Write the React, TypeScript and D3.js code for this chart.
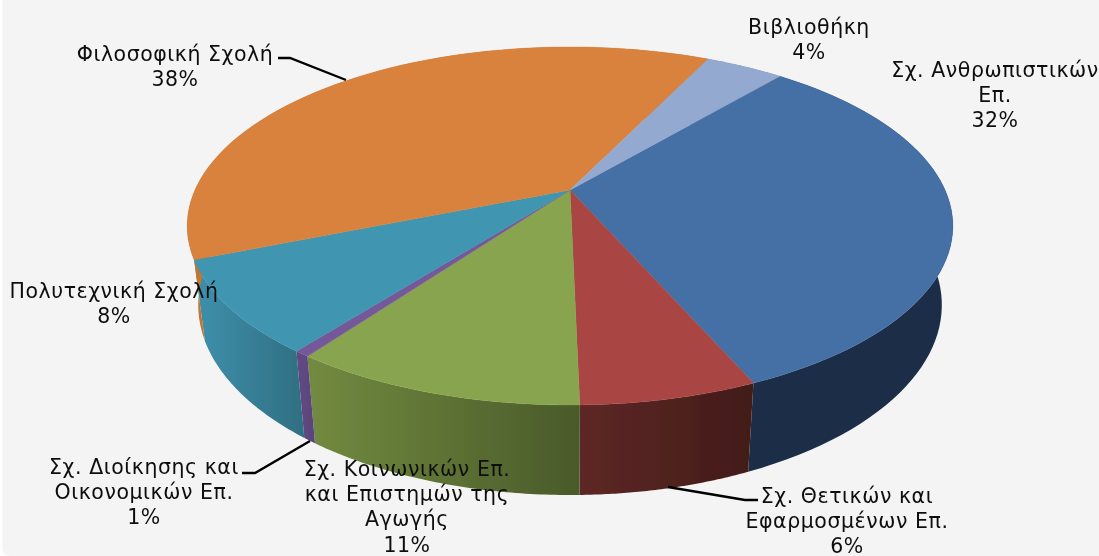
import React from "react";
import * as d3 from "d3";

const categories = [
  ["Σχ. Ανθρωπιστικών", "Επ."],
  ["Σχ. Θετικών και", "Εφαρμοσμένων Επ."],
  ["Σχ. Κοινωνικών Επ.", "και Επιστημών της", "Αγωγής"],
  ["Σχ. Διοίκησης και", "Οικονομικών Επ."],
  ["Πολυτεχνική Σχολή"],
  ["Φιλοσοφική Σχολή"],
  ["Βιβλιοθήκη"],
];
const values = [32.3, 6.2, 10.3, 0.55, 8.35, 38.3, 4.0];
const percentLabels = ["32%", "6%", "11%", "1%", "8%", "38%", "4%"];
const topColors = ["#4470A6", "#A94543", "#88A44F", "#75589A", "#3F96B0", "#D8823C", "#93A9CF"];
const wallLeft = ["#1B2E47", "#5E2725", "#71893F", "#5F4880", "#3E8DA8", "#C47532", "#6F82A3"];
const wallRight = ["#1B2E47", "#431C19", "#495A2A", "#59437A", "#2F6F82", "#C47532", "#6F82A3"];
const labelAnchors: [number, number][] = [
  [995, 77], [847, 503], [407, 476], [144, 474], [114, 298], [175, 61], [809, 34],
];
const labelLeading = 25.2;
const leaders: ([number, number][] | null)[] = [
  null,
  [[668, 487], [745, 500], [758, 500]],
  null,
  [[310, 441], [255, 473], [242, 473]],
  null,
  [[346, 80], [290, 58], [278, 58]],
  null,
];

const W = 1099, H = 556;
const startDeg = 40.2;
const apex = { x: 570, y: 190 };
const persp = { k: 0.201, A: 375, B: 171.8 };
const topEllipse = { cx: 570, cy: 226, rx: 383, ry: 179 };
const bottomEllipse = { cx: 570, cy: 305, rx: 372, ry: 190 };

function rimTop(angle: number): [number, number] {
  const u = Math.sin(angle), v = Math.cos(angle);
  const w = 1 + persp.k * v;
  return [apex.x + (persp.A * u) / w, apex.y - (persp.B * v) / w];
}
function rimBottom(angle: number): [number, number] {
  const [x, y] = rimTop(angle);
  return [
    bottomEllipse.cx + (bottomEllipse.rx / topEllipse.rx) * (x - topEllipse.cx),
    bottomEllipse.cy + (bottomEllipse.ry / topEllipse.ry) * (y - topEllipse.cy),
  ];
}

const s0 = (startDeg * Math.PI) / 180;
const arcs = d3
  .pie<number>()
  .sort(null)
  .startAngle(s0)
  .endAngle(s0 + 2 * Math.PI)(values);

const line = d3.line<[number, number]>();
const angleSteps = (a: number, b: number) => d3.range(0, 61).map((i) => a + ((b - a) * i) / 60);

export default function App() {
  const font = "'DejaVu Sans', sans-serif";
  return (
    <svg
      width={W}
      height={H}
      viewBox={`0 0 ${W} ${H}`}
      style={{ position: "fixed", left: 0, top: 0, display: "block", background: "#fff" }}
    >
      <defs>
        <filter id="soft" x="-2%" y="-2%" width="104%" height="104%">
          <feGaussianBlur stdDeviation="0.45" />
        </filter>
        {arcs.map((a, i) => (
          <linearGradient
            key={i}
            id={`wall${i}`}
            gradientUnits="userSpaceOnUse"
            x1={Math.min(rimBottom(a.startAngle)[0], rimBottom(a.endAngle)[0])}
            x2={Math.max(rimBottom(a.startAngle)[0], rimBottom(a.endAngle)[0])}
            y1={0}
            y2={0}
          >
            <stop offset="0" stopColor={wallLeft[i]} />
            <stop offset="1" stopColor={wallRight[i]} />
          </linearGradient>
        ))}
      </defs>
      <path
        d={`M2.5,0H${W}V${H}H10Q2.5,${H} 2.5,${H - 8}Z`}
        fill="#F4F4F4"
      />
      <g filter="url(#soft)">
        {arcs.map((a, i) => {
          const angles = angleSteps(a.startAngle, a.endAngle);
          const pts = [...angles.map(rimTop), ...angles.slice().reverse().map(rimBottom)];
          return <path key={i} d={line(pts) + "Z"} fill={`url(#wall${i})`} />;
        })}
        {arcs.map((a, i) => {
          const pts: [number, number][] = [
            [apex.x, apex.y],
            ...angleSteps(a.startAngle, a.endAngle).map(rimTop),
          ];
          return <path key={i} d={line(pts) + "Z"} fill={topColors[i]} stroke={topColors[i]} strokeWidth={0.4} />;
        })}
        {leaders.map((l, i) =>
          l ? <path key={i} d={line(l) || ""} fill="none" stroke="#000" strokeWidth={2.3} /> : null
        )}
        {categories.map((lines, i) => (
          <text
            key={i}
            fontFamily={font}
            fontSize={20.5}
            letterSpacing={0.55}
            fill="#111"
            textAnchor="middle"
          >
            {[...lines, percentLabels[i]].map((t, j) => (
              <tspan key={j} x={labelAnchors[i][0]} y={labelAnchors[i][1] + j * labelLeading}>
                {t}
              </tspan>
            ))}
          </text>
        ))}
      </g>
    </svg>
  );
}
